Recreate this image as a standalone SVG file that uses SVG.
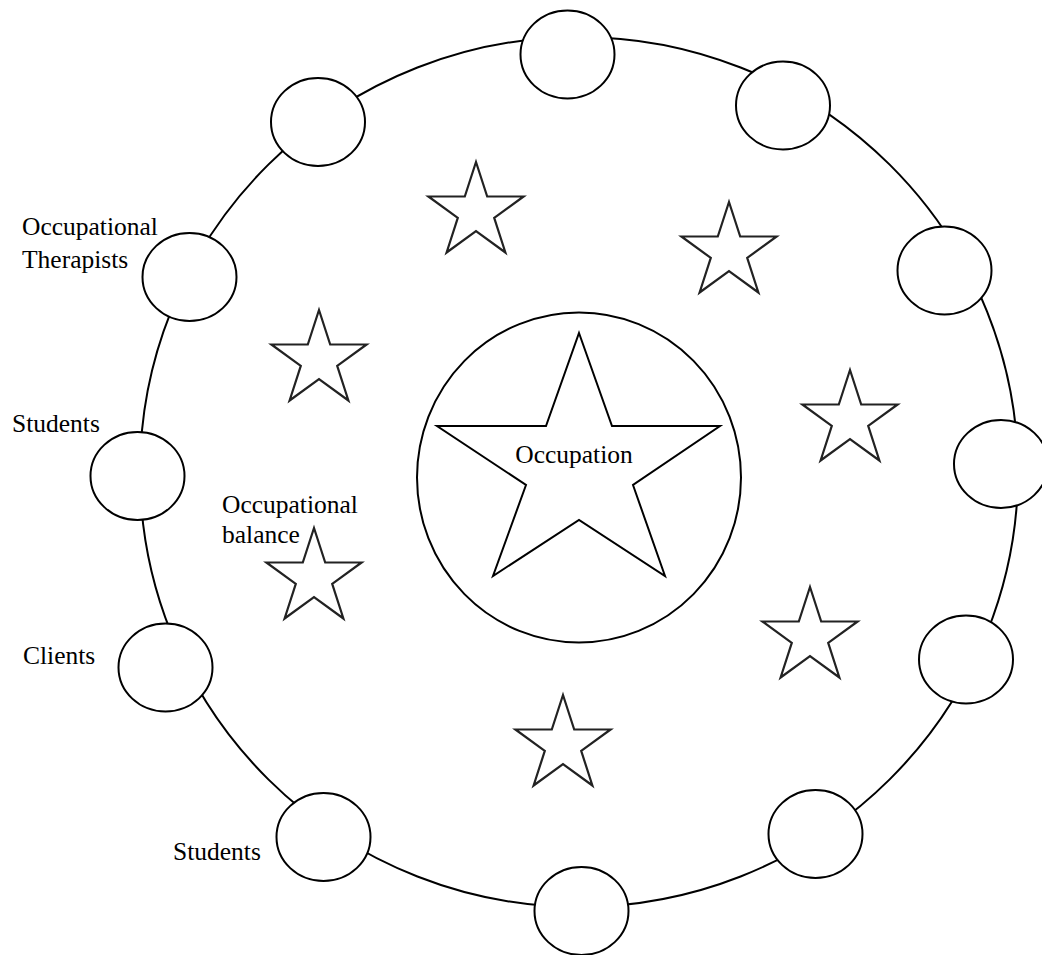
<svg xmlns="http://www.w3.org/2000/svg" width="1042" height="955" viewBox="0 0 1042 955">
<style>
.node{fill:#fff;stroke:#000;stroke-width:2}
.ring{fill:none;stroke:#000;stroke-width:2}
.star{fill:#fff;stroke:#222;stroke-width:2.2;stroke-linejoin:miter}
.lbl{font-family:"Liberation Serif","Times New Roman",serif;font-size:25.5px;fill:#000}
</style>
<defs>
<path id="star" d="M0,-50 L11.2,-15.5 L47.6,-15.5 L18.2,5.9 L29.4,40.5 L0,19.1 L-29.4,40.5 L-18.2,5.9 L-47.6,-15.5 L-11.2,-15.5 Z"/>
</defs>
<rect width="1042" height="955" fill="#fff"/>
<g id="connectors">
<ellipse class="ring" cx="579" cy="472" rx="439" ry="435"/>
</g>
<g id="n1"><ellipse class="node" cx="567.5" cy="54.5" rx="47" ry="44"/></g>
<g id="n2"><ellipse class="node" cx="783" cy="105.5" rx="47" ry="44"/></g>
<g id="n3"><ellipse class="node" cx="944.5" cy="270.5" rx="47" ry="44"/></g>
<g id="n4"><ellipse class="node" cx="1001" cy="464" rx="47" ry="44"/></g>
<g id="n5"><ellipse class="node" cx="966" cy="659.5" rx="47" ry="44"/></g>
<g id="n6"><ellipse class="node" cx="815.5" cy="834" rx="47" ry="44"/></g>
<g id="n7"><ellipse class="node" cx="581.5" cy="911" rx="47" ry="44"/></g>
<g id="n8"><ellipse class="node" cx="323.5" cy="837" rx="47" ry="44"/><text class="lbl" x="173" y="860">Students</text></g>
<g id="n9"><ellipse class="node" cx="165.5" cy="667.5" rx="47" ry="44"/><text class="lbl" x="23" y="664">Clients</text></g>
<g id="n10"><ellipse class="node" cx="137.5" cy="476" rx="47" ry="44"/><text class="lbl" x="12" y="432">Students</text></g>
<g id="n11"><ellipse class="node" cx="189.5" cy="277" rx="47" ry="44"/><text class="lbl" x="22" y="235">Occupational</text><text class="lbl" x="22" y="268">Therapists</text></g>
<g id="n12"><ellipse class="node" cx="318" cy="122" rx="47" ry="44"/></g>
<g id="center">
<ellipse class="node" cx="579" cy="477.5" rx="162" ry="165"/>
<path fill="#fff" stroke="#000" stroke-width="2" d="M579,333 L612,426 L720,426 L633,485 L665,576 L579,520 L493,576 L526,485 L437,426 L546,426 Z"/>
<text class="lbl" x="574" y="463" text-anchor="middle">Occupation</text>
</g>
<g id="s1"><use href="#star" class="star" transform="translate(476,212)"/></g>
<g id="s2"><use href="#star" class="star" transform="translate(729,252)"/></g>
<g id="s3"><use href="#star" class="star" transform="translate(319,360)"/></g>
<g id="s4"><use href="#star" class="star" transform="translate(850,420)"/></g>
<g id="s5"><use href="#star" class="star" transform="translate(314,578)"/><text class="lbl" x="222" y="513">Occupational</text><text class="lbl" x="222" y="543">balance</text></g>
<g id="s6"><use href="#star" class="star" transform="translate(810,637)"/></g>
<g id="s7"><use href="#star" class="star" transform="translate(563,745)"/></g>
</svg>
